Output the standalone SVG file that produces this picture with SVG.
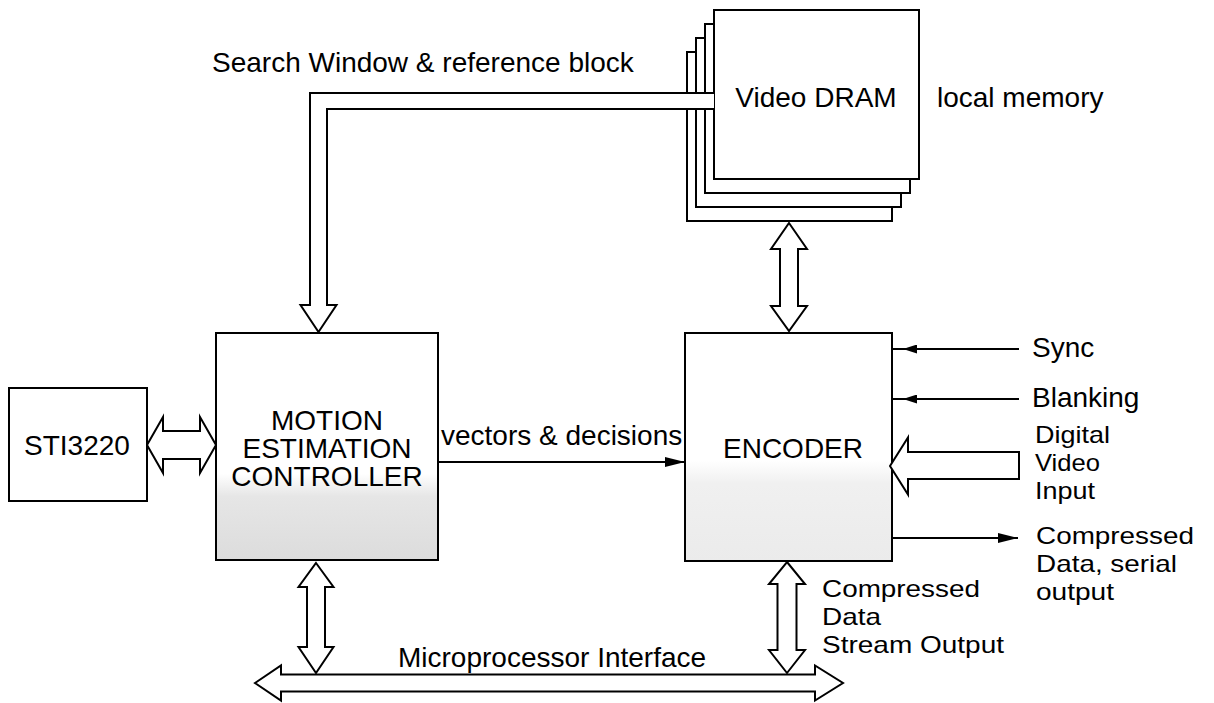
<svg xmlns="http://www.w3.org/2000/svg" width="1214" height="703" viewBox="0 0 1214 703">
<style>
  .box { fill: #fff; stroke: #000; stroke-width: 2; }
  .conn { fill: #fff; stroke: #000; stroke-width: 2; stroke-linejoin: miter; }
  .line { fill: none; stroke: #000; stroke-width: 2; }
  text { font-family: "Liberation Sans", Arial, sans-serif; font-size: 28px; fill: #000; }
  .mid { text-anchor: middle; }
  .stk { font-size: 24px; }
</style>
<defs>
  <linearGradient id="gMec" x1="0" y1="0" x2="0" y2="1">
    <stop offset="0" stop-color="#fff"/>
    <stop offset="0.62" stop-color="#fff"/>
    <stop offset="0.72" stop-color="#e6e6e6"/>
    <stop offset="1" stop-color="#dcdcdc"/>
  </linearGradient>
  <linearGradient id="gEnc" x1="0" y1="0" x2="0" y2="1">
    <stop offset="0" stop-color="#fff"/>
    <stop offset="0.56" stop-color="#fff"/>
    <stop offset="0.66" stop-color="#f0f0f0"/>
    <stop offset="1" stop-color="#ebebeb"/>
  </linearGradient>
  <marker id="arr" markerUnits="userSpaceOnUse" markerWidth="20" markerHeight="10" refX="20" refY="5" orient="auto">
    <path d="M0,0 L20,5 L0,10 Z" fill="#000"/>
  </marker>
  <marker id="arrS" markerUnits="userSpaceOnUse" markerWidth="14" markerHeight="9" refX="14" refY="4.5" orient="auto">
    <path d="M0,0 L14,4.5 L0,9 Z" fill="#000"/>
  </marker>
</defs>

<g id="vram">
  <rect class="box" x="687" y="52" width="205" height="169"/>
  <rect class="box" x="696" y="38" width="205" height="169"/>
  <rect class="box" x="705" y="24" width="205" height="169"/>
  <rect class="box" x="714" y="10" width="205" height="169"/>
  <text class="mid" x="816" y="107">Video DRAM</text>
</g>

<g id="sti3220">
  <rect class="box" x="9" y="388" width="138" height="113"/>
  <text class="mid" x="77" y="455">STI3220</text>
</g>

<g id="mec">
  <rect class="box" x="216" y="333" width="222" height="227" style="fill:url(#gMec)"/>
  <text class="mid" x="327" y="430">MOTION</text>
  <text class="mid" x="327" y="458">ESTIMATION</text>
  <text class="mid" x="327" y="486">CONTROLLER</text>
</g>

<g id="encoder">
  <rect class="box" x="685" y="333" width="207" height="228" style="fill:url(#gEnc)"/>
  <text class="mid" x="793" y="458">ENCODER</text>
</g>

<g id="connectors">
  <!-- search window bus from Video DRAM to MEC -->
  <path class="conn" d="M714,93 L310,93 L310,305 L300.5,305 L318.5,332 L336.5,305 L327,305 L327,109 L714,109"/>
  <!-- Video DRAM <-> Encoder -->
  <path class="conn" d="M789,223 L807,249 L798,249 L798,306 L807,306 L789,331 L771,306 L780,306 L780,249 L771,249 Z"/>
  <!-- STI3220 <-> MEC -->
  <path class="conn" d="M147,445 L163,417 L163,431 L200,431 L200,417 L216,445 L200,473 L200,459 L163,459 L163,473 Z"/>
  <!-- Microprocessor bus -->
  <path class="conn" d="M255,683 L281,665.5 L281,674.5 L815,674.5 L815,665.5 L843,683 L815,700.5 L815,691.5 L281,691.5 L281,700.5 Z"/>
  <!-- MEC <-> bus -->
  <path class="conn" d="M316,563 L333.5,587 L325,587 L325,647 L333.5,647 L316,673 L298.5,647 L307,647 L307,587 L298.5,587 Z"/>
  <!-- Encoder <-> bus -->
  <path class="conn" d="M787,562 L805,584 L796.5,584 L796.5,650 L805,650 L787,673 L769,650 L777.5,650 L777.5,584 L769,584 Z"/>
  <!-- Digital video input -->
  <path class="conn" d="M890,466 L908,437.5 L908,452 L1019,452 L1019,479 L908,479 L908,494.5 Z"/>
  <!-- vectors & decisions -->
  <line class="line" x1="438" y1="462" x2="685" y2="462" marker-end="url(#arr)"/>
  <!-- Sync -->
  <path class="line" d="M1019,349 L903,349 L892,349" marker-mid="url(#arrS)"/>
  <!-- Blanking -->
  <path class="line" d="M1019,399 L903,399 L892,399" marker-mid="url(#arrS)"/>
  <!-- Compressed serial out -->
  <line class="line" x1="892" y1="538" x2="1018" y2="538" marker-end="url(#arr)"/>
</g>

<g id="labels">
  <text x="212" y="72">Search Window &amp; reference block</text>
  <text x="937" y="107">local memory</text>
  <text x="441" y="445">vectors &amp; decisions</text>
  <text x="1032" y="357">Sync</text>
  <text x="1032" y="407">Blanking</text>
  <text class="stk" x="1035" y="443" textLength="75" lengthAdjust="spacingAndGlyphs">Digital</text>
  <text class="stk" x="1035" y="471" textLength="65" lengthAdjust="spacingAndGlyphs">Video</text>
  <text class="stk" x="1035" y="499" textLength="60" lengthAdjust="spacingAndGlyphs">Input</text>
  <text class="stk" x="1036" y="544" textLength="158" lengthAdjust="spacingAndGlyphs">Compressed</text>
  <text class="stk" x="1036" y="572" textLength="141" lengthAdjust="spacingAndGlyphs">Data, serial</text>
  <text class="stk" x="1036" y="600" textLength="78" lengthAdjust="spacingAndGlyphs">output</text>
  <text class="stk" x="822" y="597" textLength="158" lengthAdjust="spacingAndGlyphs">Compressed</text>
  <text class="stk" x="822" y="625" textLength="59" lengthAdjust="spacingAndGlyphs">Data</text>
  <text class="stk" x="822" y="653" textLength="182" lengthAdjust="spacingAndGlyphs">Stream Output</text>
  <text x="398" y="667">Microprocessor Interface</text>
</g>
</svg>
